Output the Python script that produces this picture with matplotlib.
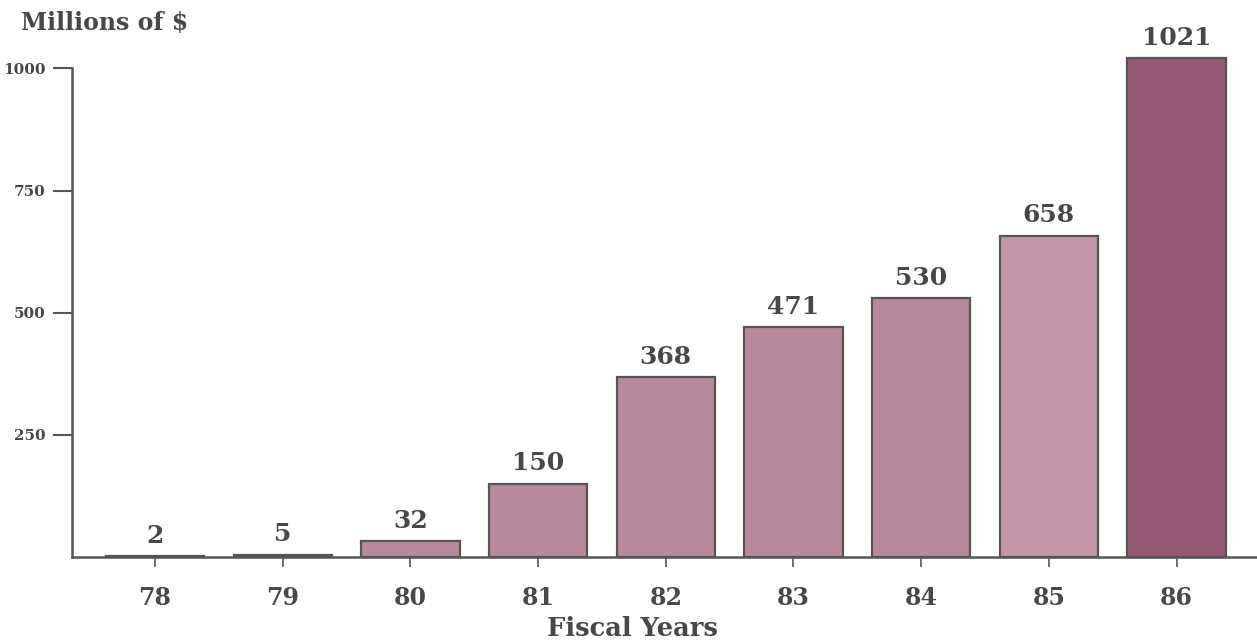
import matplotlib.pyplot as plt

years = ['78', '79', '80', '81', '82', '83', '84', '85', '86']
values = [2, 5, 32, 150, 368, 471, 530, 658, 1021]
colors = ['#b8889d'] * 7 + ['#c397a8', '#955a73']
yticks = [250, 500, 750, 1000]

ink = '#484848'
font = 'DejaVu Serif'

fig = plt.figure(figsize=(12.57, 6.43), dpi=100)
ax = fig.add_axes([0.0573, 0.1337, 0.9427, 0.8663])

x = range(len(years))
bars = ax.bar(x, values, width=0.77, color=colors, edgecolor='#555555',
              linewidth=1.6, clip_on=False, zorder=2)

for xi, v in zip(x, values):
    ax.annotate(str(v), (xi, v), xytext=(0, 6), textcoords='offset points',
                ha='center', va='bottom', fontsize=18, fontweight='bold',
                family=font, color=ink, annotation_clip=False)

ax.set_xlim(-0.65, 8.63)
ax.set_ylim(0, 1140)

for s in ['top', 'right']:
    ax.spines[s].set_visible(False)
ax.spines['left'].set_bounds(0, 1000)
for s in ['left', 'bottom']:
    ax.spines[s].set_color('#555555')
    ax.spines[s].set_linewidth(1.8)

ax.set_yticks(yticks)
ax.set_yticklabels([str(t) for t in yticks], fontsize=11, fontweight='bold',
                   family=font, color=ink)
ax.tick_params(axis='y', length=14, width=1.5, color='#555555', pad=5)

ax.set_xticks(list(x))
ax.set_xticklabels(years, fontsize=17, fontweight='bold', family=font, color=ink)
ax.tick_params(axis='x', length=7, width=1.2, color='#555555', pad=14)

ax.set_xlabel('Fiscal Years', fontsize=18.5, fontweight='bold', family=font,
              color=ink)
ax.xaxis.set_label_coords(0.473, -0.105)
fig.text(0.017, 0.965, 'Millions of $', fontsize=17, fontweight='bold',
         family=font, color=ink, va='center', ha='left')

fig.savefig('out.png', dpi=100)
